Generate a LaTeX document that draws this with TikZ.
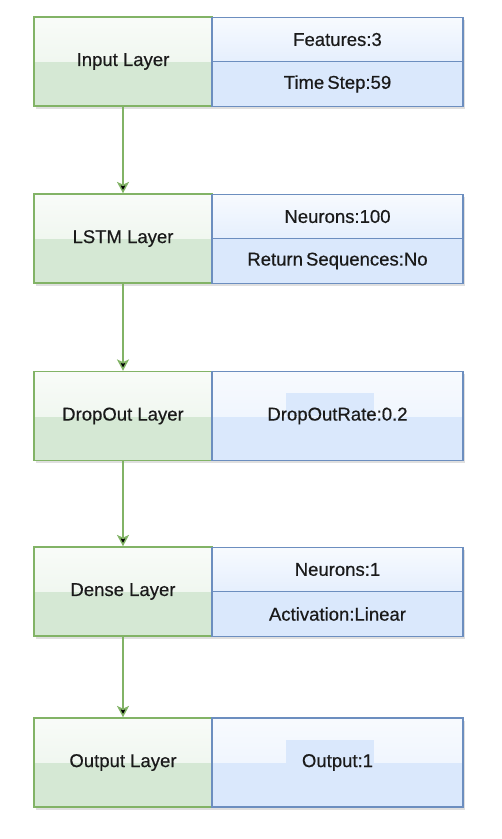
\documentclass[tikz,border=0pt]{standalone}
\usepackage{fontspec}
\setmainfont{Liberation Sans}[BoldFont={Liberation Sans}, BoldFeatures={FakeBold=0.5}]
\usepackage{tikz}
\usetikzlibrary{arrows.meta,shadows}
\definecolor{lgreen}{HTML}{D5E8D4}
\definecolor{dgreen}{HTML}{82B366}
\definecolor{lblue}{HTML}{DAE8FC}
\definecolor{dblue}{HTML}{6C8EBF}
\definecolor{txt}{HTML}{1A1A1A}
\tikzset{
  base/.style={line width=1.1pt, inner sep=0pt, text=txt,
    drop shadow={shadow xshift=1.5pt, shadow yshift=-2pt, opacity=0.25}},
  layer/.style={base, draw=dgreen, fill=lgreen, minimum width=133.5pt, minimum height=66.75pt,
    path picture={\shade[top color=white!85!lgreen, bottom color=white!45!lgreen]
      (path picture bounding box.north west) rectangle (path picture bounding box.east);}},
  param/.style={base, draw=dblue, fill=lblue, minimum width=188.25pt, minimum height=66.75pt,
    path picture={\shade[top color=white!80!lblue, bottom color=white!40!lblue]
      (path picture bounding box.north west) rectangle (path picture bounding box.east);
      \fill[lblue] ([shift={(-51.5,-23)}]path picture bounding box.center)
        rectangle ([shift={(36.5,0)}]path picture bounding box.center);}},
  paramtop/.style={base, draw=dblue, fill=lblue, minimum width=188.25pt, minimum height=33.4pt,
    path picture={\shade[top color=white!80!lblue, bottom color=white!30!lblue]
      (path picture bounding box.north west) rectangle (path picture bounding box.south east);}},
  parambot/.style={base, draw=dblue, fill=lblue, minimum width=188.25pt, minimum height=33.4pt}
}
\begin{document}
\begin{tikzpicture}[x=0.75pt,y=-0.75pt,font=\fontsize{13.9}{16}\selectfont\bfseries]
    \useasboundingbox (0,0) rectangle (501,839);

    \node[layer] (1) at (123,61.5) {Input Layer};
    \node[paramtop] (1a) at (337.5,39.5) {Features:3};
    \node[parambot] (1b) at (337.5,84) {Time\,Step:59};

    \node[layer] (2) at (123,238.5) {LSTM Layer};
    \node[paramtop] (2a) at (337.5,216.5) {Neurons:100};
    \node[parambot] (2b) at (337.5,261) {Return\,Sequences:No};

    \node[layer] (3) at (123,416) {DropOut Layer};
    \node[param] (3a) at (337.5,416) {DropOutRate:0.2};

    \node[layer] (4) at (123,591.5) {Dense Layer};
    \node[paramtop] (4a) at (337.5,569.5) {Neurons:1};
    \node[parambot] (4b) at (337.5,614) {Activation:Linear};

    \node[layer] (5) at (123,762.5) {Output Layer};
    \node[param] (5a) at (337.5,762.5) {Output:1};

    \path[draw=dgreen, line width=1.1pt, -{Stealth[length=8.5pt,width=9pt,inset=2pt]}]
	(1) edge (2)
	(2) edge (3)
	(3) edge (4)
	(4) edge (5);
\end{tikzpicture}
\end{document}
